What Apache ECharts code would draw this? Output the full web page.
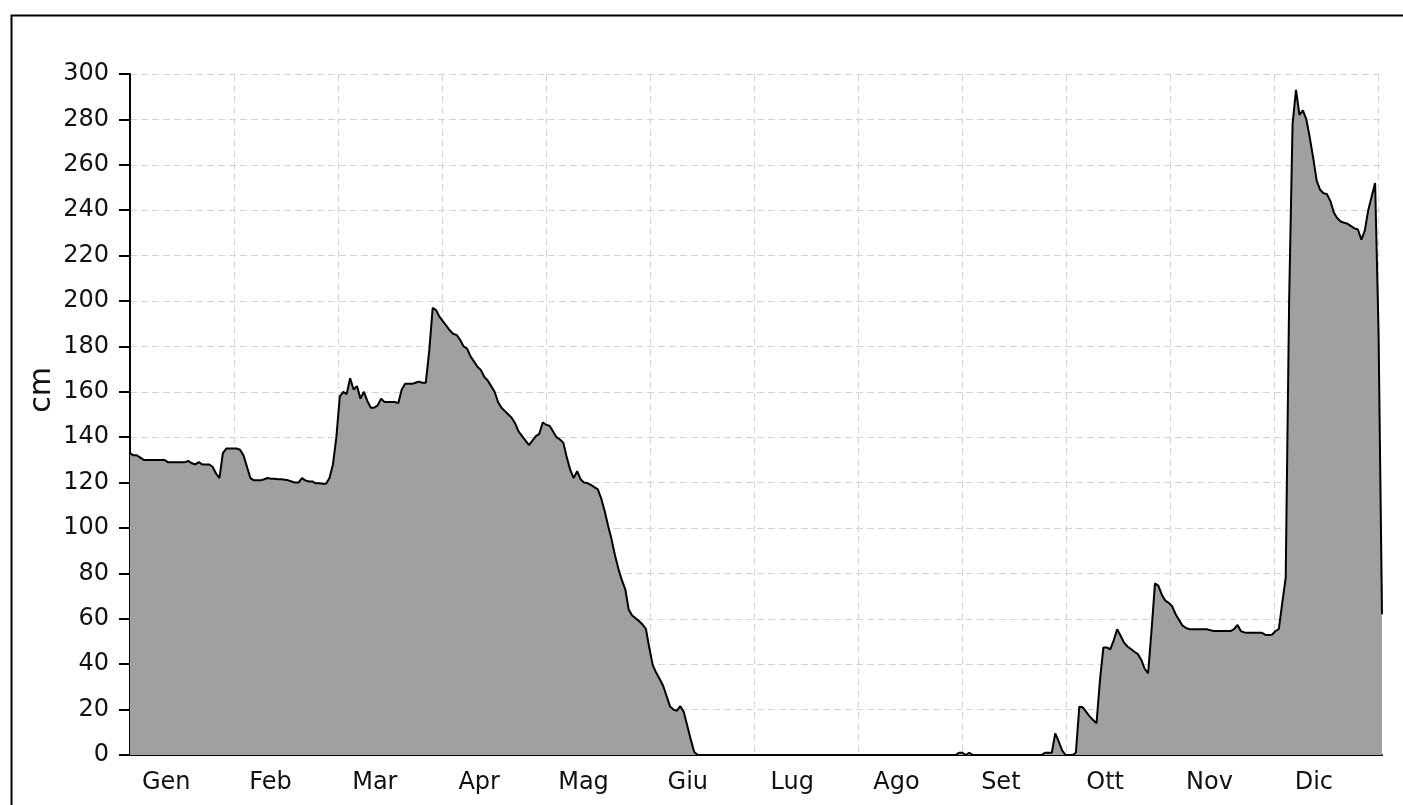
<!DOCTYPE html>
<html>
<head>
<meta charset="utf-8">
<script src="https://cdn.jsdelivr.net/npm/echarts@6/dist/echarts.min.js"></script>
<style>
html,body{margin:0;padding:0;background:#fff;}
#chart{width:1403px;height:805px;}
</style>
</head>
<body>
<div id="chart"></div>
<script>
// Month labels
const months = ['Gen','Feb','Mar','Apr','Mag','Giu','Lug','Ago','Set','Ott','Nov','Dic'];

// Daily snow depth (cm), one array per calendar month
const gen = [133,132,132,131,130,130,130,130,130,130,130,129,129,129,129,129,129,129.5,128.5,128,129,128,128,128,127,124,122,133,135,135,135];
const feb = [135,134.5,132,127,122,121,121,121,121.5,122,121.7,121.7,121.5,121.5,121.3,121,120.5,120,120,122,121,120.5,120.5,119.7,119.7,119.5,119.5,122];
const mar = [128,140,158,160,159,166,161,162.5,157,160,156,153,153,154,157,155.5,155.5,155.5,155.5,155,161,163.5,163.5,163.5,164,164.5,164,164,178,197,196];
const apr = [193,191,189,187,185.5,185,182.8,180,179,175.6,173.4,171,169.6,166.6,165,162.5,160,155.5,153,151.5,150,148.5,146,142.5,140.5,138.5,136.5,138.5,140.5,141.5];
const mag = [146.5,145.5,145,142.5,140,139,137.5,131,125.6,122,125,121.5,120,119.8,119,118,117,113,107.5,101,95,88,82,77,73,64,61.5,60.2,59,57.5,55.5];
const giu = [47,39.5,36.2,33.5,30.5,26,21.4,20,19.5,21.5,19,13,7,1.5,0,0,0,0,0,0,0,0,0,0,0,0,0,0,0,0];
const lug = [0,0,0,0,0,0,0,0,0,0,0,0,0,0,0,0,0,0,0,0,0,0,0,0,0,0,0,0,0,0,0];
const ago = [0,0,0,0,0,0,0,0,0,0,0,0,0,0,0,0,0,0,0,0,0,0,0,0,0,0,0,0,0,1,1];
const set = [0,1,0,0,0,0,0,0,0,0,0,0,0,0,0,0,0,0,0,0,0,0,0,1,1,1,9.5,6,2,0];
const ott = [0,0,1,21.3,21,19,17,15.4,14,33,47.4,47.4,46.5,50.5,55.4,52.5,49.5,47.8,46.7,45.5,44.5,42,38,36,55,75.6,74.5,70.5,68,67,65.5];
const nov = [62,59.5,57,56,55.4,55.4,55.4,55.4,55.4,55.4,55,54.6,54.6,54.6,54.6,54.6,54.6,55.5,57.3,54.5,54,53.9,53.9,53.9,53.9,53.9,53,52.9,53,54.5];
const dic = [55.5,67,78,200,278,293,282,284,280,272,263,253,249,247.5,247,244,239,236.5,235,234.5,234,233,232,231.5,227,231,240,246,252,186,62];

// Y ticks
const yMin = 0, yMax = 300, yStep = 20;

const daily = [].concat(gen, feb, mar, apr, mag, giu, lug, ago, set, ott, nov, dic);
const seriesData = daily.map((v, i) => [i, v]);
const lastDay = daily.length - 1;

const FONT = 'DejaVu Sans';
const chart = echarts.init(document.getElementById('chart'), null, {renderer: 'canvas'});
chart.setOption({
  animation: false,
  backgroundColor: '#fff',
  grid: {left: 130, right: 21, top: 74, bottom: 50, containLabel: false},
  xAxis: [
    {
      type: 'value', min: 0, max: lastDay, interval: 30.25,
      position: 'bottom',
      axisLine: {show: true, onZero: false, lineStyle: {color: '#000', width: 2}},
      axisTick: {show: false},
      axisLabel: {show: false},
      splitLine: {show: true, showMinLine: false, showMaxLine: false,
        lineStyle: {color: '#d4d4d4', type: [7, 4], width: 1}}
    },
    {
      type: 'category', data: months, boundaryGap: true,
      position: 'bottom',
      axisLine: {show: false}, axisTick: {show: false},
      splitLine: {show: false},
      axisLabel: {show: true, interval: 0, margin: 16, color: '#111',
        fontFamily: FONT, fontSize: 24, padding: [0, 32, 0, 0]}
    }
  ],
  yAxis: {
    type: 'value', min: yMin, max: yMax, interval: yStep,
    axisLine: {show: true, lineStyle: {color: '#000', width: 2}},
    axisTick: {show: true, length: 11, lineStyle: {color: '#000', width: 2}},
    axisLabel: {margin: 21, color: '#111', fontFamily: FONT, fontSize: 24},
    splitLine: {show: true, showMinLine: false,
      lineStyle: {color: '#d4d4d4', type: [7, 4], width: 1}}
  },
  series: [{
    type: 'line',
    xAxisIndex: 0,
    data: seriesData,
    showSymbol: false,
    symbol: 'none',
    lineStyle: {color: '#000', width: 2},
    areaStyle: {color: '#a0a0a0', opacity: 1, origin: 'start'},
    z: 3
  }],
  graphic: [
    {type: 'rect', left: 9, top: 13, silent: true, z: 100,
      shape: {x: 0, y: 0, width: 1440, height: 900},
      style: {fill: 'none', stroke: '#000', lineWidth: 2}},
    {type: 'text', x: 42, y: 390, rotation: Math.PI / 2, silent: true, z: 100,
      style: {text: 'cm', fill: '#111', font: '30px "DejaVu Sans"',
        textAlign: 'center', textVerticalAlign: 'middle'}}
  ]
});
</script>
</body>
</html>
